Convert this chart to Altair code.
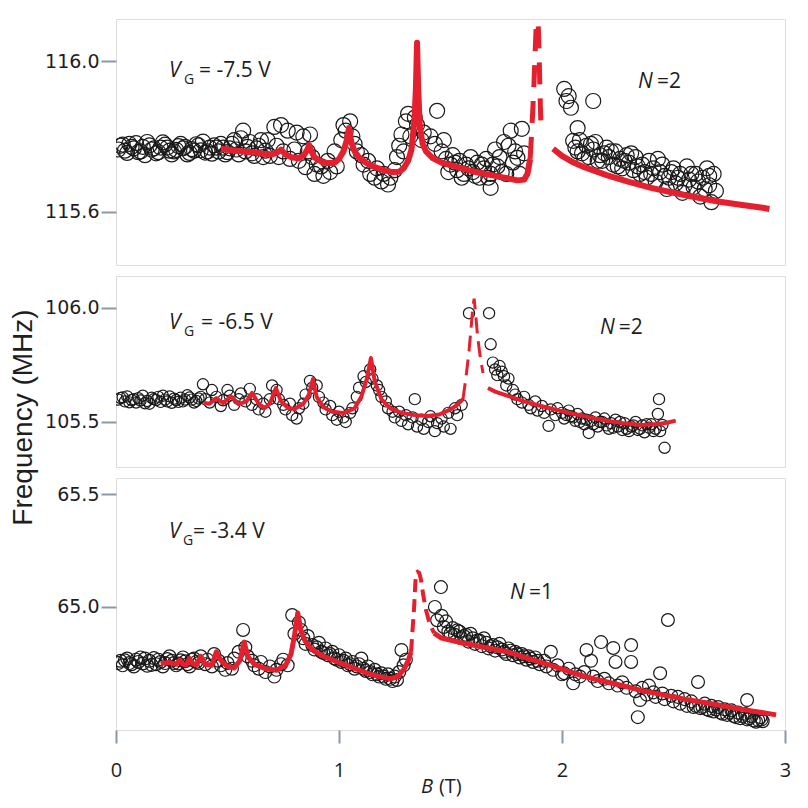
import altair as alt
import pandas as pd

# ---------------- Panel 1 (VG = -7.5 V) ----------------
p1_b = [0.02,0.04,0.06,0.08,0.10,0.12,0.14,0.16,0.18,0.20,0.22,0.24,0.26,0.28,0.30,0.32,0.34,0.36,0.38,0.40,0.42,0.44,0.46,
        0.48,0.50,0.52,0.54,0.56,0.57,0.59,0.61,0.63,0.65,0.67,0.69,
        0.71,0.72,0.73,0.74,0.75,0.77,0.78,0.80,
        0.81,0.82,0.84,0.85,0.86,0.87,0.88,0.89,0.90,
        0.92,0.93,0.95,0.96,0.98,0.99,1.01,1.02,1.03,1.05,1.06,
        1.07,1.08,1.10,1.11,1.13,1.14,1.16,1.17,1.19,1.20,1.22,1.23,1.25,
        1.26,1.27,1.28,1.29,1.30,1.31,1.32,1.34,1.35,1.37,1.38,1.44,
        1.41,1.43,1.46,1.47,1.48,1.50,1.51,1.53,1.54,1.56,1.57,1.59,1.60,1.62,1.63,1.65,1.66,1.68,1.69,1.70,1.72,1.73,1.74,1.76,1.77,1.79,1.80,1.81,1.82,1.83,1.68,
        2.01,2.03,2.02,2.04,2.14,2.07,2.05,
        2.06,2.08,2.09,2.11,2.12,2.14,2.15,2.17,2.18,2.20,2.21,2.23,2.24,2.26,2.27,2.29,2.30,2.32,2.33,2.35,2.36,2.38,2.39,2.41,2.42,2.44,2.45,2.47,2.48,2.50,2.51,2.53,2.54,2.56,2.57,2.59,2.60,2.62,2.63,2.65,2.66,2.67,2.68,2.69]
p1_f = [115.775,115.762,115.780,115.768,115.758,115.772,115.785,115.765,115.755,115.770,115.778,115.762,115.760,115.774,115.768,115.752,115.766,115.779,115.763,115.757,115.770,115.776,115.760,
        115.770,115.758,115.780,115.765,115.795,115.815,115.772,115.755,115.768,115.790,115.762,115.748,
        115.825,115.775,115.745,115.830,115.760,115.815,115.740,115.765,
        115.810,115.735,115.800,115.718,115.760,115.805,115.745,115.700,115.725,
        115.720,115.695,115.735,115.705,115.760,115.720,115.790,115.830,115.815,115.840,115.800,
        115.780,115.760,115.750,115.725,115.735,115.700,115.690,115.715,115.680,115.700,115.672,115.690,115.710,
        115.745,115.775,115.805,115.760,115.840,115.860,115.800,115.850,115.830,115.790,115.810,115.868,
        115.800,115.780,115.760,115.790,115.740,115.725,115.750,115.710,115.735,115.700,115.725,115.745,115.705,115.730,115.690,115.715,115.740,115.700,115.725,115.765,115.745,115.705,115.785,115.775,115.815,115.760,115.743,115.700,115.820,115.755,115.663,
        115.926,115.907,115.894,115.876,115.894,115.822,115.788,
        115.770,115.790,115.755,115.775,115.745,115.765,115.785,115.750,115.735,115.770,115.745,115.725,115.760,115.740,115.715,115.750,115.730,115.710,115.745,115.700,115.725,115.690,115.735,115.715,115.680,115.705,115.725,115.660,115.690,115.715,115.675,115.700,115.650,115.720,115.685,115.665,115.700,115.640,115.690,115.715,115.670,115.625,115.700,115.655]
p1_b_extra = [0.01,0.03,0.05,0.07,0.09,0.11,0.13,0.15,0.17,0.19,0.21,0.23,0.25,0.27,0.29,0.31,0.33,0.35,0.37,0.39,0.41,0.43,0.45,
              0.47,0.49,0.51,0.53,0.55,0.58,0.60,0.62,0.64,0.66,0.68,
              1.49,1.52,1.55,1.58,1.61,1.64,1.67,1.71,1.75,1.78,
              2.07,2.10,2.13,2.16,2.19,2.22,2.25,2.28,2.31,2.34,2.37,2.40,2.43,2.46,2.49,2.52,2.55,2.58,2.61,2.64,2.66]
p1_f_extra = [115.765,115.778,115.756,115.772,115.782,115.760,115.750,115.776,115.768,115.758,115.784,115.770,115.752,115.764,115.780,115.772,115.756,115.762,115.776,115.786,115.760,115.754,115.770,
              115.780,115.752,115.768,115.790,115.752,115.760,115.785,115.748,115.775,115.745,115.790,
              115.705,115.730,115.690,115.715,115.695,115.725,115.690,115.720,115.700,115.730,
              115.760,115.740,115.780,115.735,115.755,115.760,115.720,115.735,115.755,115.720,115.705,115.700,115.740,115.695,115.705,115.690,115.670,115.700,115.680,115.660,115.695]

p1_fit1_b = [0.47,0.52,0.57,0.62,0.66,0.70,0.72,0.74,0.76,0.79,0.82,0.845,0.858,0.866,0.875,0.89,0.92,0.95,0.98,1.00,1.02,1.035,1.045,1.055,1.07,1.09,1.12,1.16,1.20,1.24,1.27,1.29,1.31,1.325,1.338,1.345,1.35,1.355,1.362,1.375,1.39,1.42,1.46,1.52,1.58,1.64,1.70,1.76,1.80,1.83,1.845,1.857]
p1_fit1_f = [115.767,115.763,115.760,115.757,115.754,115.752,115.756,115.765,115.752,115.744,115.742,115.752,115.765,115.777,115.762,115.744,115.733,115.729,115.730,115.740,115.760,115.790,115.822,115.785,115.760,115.744,115.730,115.718,115.710,115.705,115.706,115.715,115.735,115.765,115.840,115.930,116.049,115.930,115.830,115.780,115.760,115.742,115.730,115.720,115.710,115.702,115.695,115.688,115.683,115.685,115.700,115.740]
p1_dash_b = [1.857,1.863,1.869,1.875,1.880,1.885,1.893,1.897,1.900,1.903,1.906]
p1_dash_f = [115.740,115.800,115.870,115.950,116.030,116.105,116.105,116.030,115.950,115.880,115.820]
p1_fit2_b = [1.96,2.00,2.05,2.10,2.20,2.30,2.40,2.50,2.60,2.70,2.80,2.90,2.93]
p1_fit2_f = [115.767,115.748,115.731,115.718,115.697,115.679,115.663,115.650,115.638,115.627,115.618,115.610,115.607]

# ---------------- Panel 2 (VG = -6.5 V) ----------------
p2_b = [0.02,0.04,0.05,0.07,0.09,0.10,0.12,0.14,0.15,0.17,0.19,0.20,0.22,0.24,0.25,0.27,0.29,0.30,0.32,0.34,0.35,0.37,
        0.39,0.40,0.42,0.43,0.45,0.47,0.48,0.50,0.51,0.53,0.55,0.56,0.58,0.60,0.61,0.63,0.64,0.66,0.67,0.69,0.70,0.72,0.73,0.75,
        0.76,0.78,0.79,0.81,0.82,0.84,0.85,0.87,0.88,0.90,0.91,0.93,0.94,0.96,0.97,0.99,1.00,1.02,1.03,1.05,
        1.06,1.08,1.09,1.11,1.12,1.14,1.15,1.17,1.18,1.19,1.21,1.22,1.24,
        1.25,1.27,1.28,1.30,1.31,1.33,1.34,1.35,1.37,1.38,1.40,1.41,1.43,1.44,1.46,1.47,1.49,1.50,1.52,1.53,1.55,
        1.583,1.673,1.68,1.69,1.70,1.71,1.72,1.73,1.74,1.75,1.76,1.78,1.79,1.80,1.82,1.83,1.85,1.86,1.88,1.89,1.91,1.92,1.94,1.95,1.97,1.98,
        2.00,2.01,2.03,2.04,2.06,2.07,2.09,2.10,2.12,2.13,2.15,2.16,2.18,2.19,2.21,2.22,2.24,2.25,2.27,2.28,2.30,2.31,2.33,2.34,2.36,2.37,2.39,2.40,2.42,2.43,2.435,2.44,2.45,2.46]
p2_f = [105.605,105.590,105.612,105.596,105.585,105.604,105.615,105.592,105.580,105.600,105.610,105.588,105.598,105.612,105.584,105.596,105.606,105.590,105.617,105.598,105.585,105.603,
        105.665,105.600,105.585,105.640,105.610,105.570,105.595,105.640,105.615,105.575,105.600,105.625,105.590,105.645,105.575,105.600,105.555,105.580,105.545,105.600,105.660,105.640,105.600,105.575,
        105.555,105.580,105.530,105.515,105.560,105.580,105.620,105.680,105.650,105.660,105.610,105.585,105.555,105.570,105.530,105.510,105.545,105.520,105.500,105.540,
        105.560,105.610,105.650,105.700,105.675,105.730,105.690,105.660,105.640,105.610,105.590,105.560,105.545,
        105.520,105.545,105.505,105.530,105.490,105.520,105.600,105.480,105.510,105.470,105.500,105.525,105.460,105.495,105.515,105.480,105.540,105.470,105.560,105.530,105.575,
        105.976,105.976,105.840,105.760,105.730,105.705,105.745,105.720,105.700,105.660,105.690,105.640,105.620,105.600,105.585,105.610,105.575,105.560,105.590,105.550,105.570,105.540,105.483,105.555,105.530,105.560,
        105.540,105.515,105.550,105.525,105.505,105.535,105.515,105.490,105.452,105.505,105.520,105.480,105.500,105.515,105.470,105.495,105.510,105.480,105.465,105.495,105.460,105.480,105.500,105.465,105.485,105.455,105.475,105.490,105.470,105.535,105.600,105.460,105.487,105.387]
p2_b_extra = [0.01,0.03,0.06,0.08,0.11,0.13,0.16,0.18,0.21,0.23,0.26,0.28,0.31,0.33,0.36,0.38,
              2.02,2.05,2.08,2.11,2.14,2.17,2.20,2.23,2.26,2.29,2.32,2.35,2.38,2.41]
p2_f_extra = [105.598,105.608,105.586,105.600,105.594,105.582,105.606,105.596,105.615,105.590,105.602,105.588,105.598,105.607,105.592,105.610,
              105.530,105.520,105.500,105.510,105.490,105.500,105.485,105.475,105.500,105.470,105.485,105.470,105.490,105.460]

p2_fit1_b = [0.395,0.42,0.45,0.48,0.515,0.55,0.585,0.61,0.64,0.665,0.69,0.717,0.74,0.77,0.80,0.84,0.865,0.883,0.90,0.93,0.97,1.02,1.07,1.10,1.125,1.143,1.16,1.19,1.23,1.28,1.34,1.40,1.45,1.50,1.53,1.556]
p2_fit1_f = [105.583,105.580,105.605,105.583,105.612,105.578,105.590,105.627,105.580,105.561,105.580,105.649,105.590,105.562,105.557,105.580,105.620,105.688,105.610,105.565,105.545,105.539,105.560,105.610,105.690,105.780,105.680,105.600,105.560,105.540,105.530,105.526,105.533,105.555,105.575,105.600]
p2_dash_b = [1.556,1.570,1.583,1.593,1.600,1.606,1.612,1.622,1.634,1.646]
p2_dash_f = [105.600,105.700,105.810,105.920,106.000,106.040,105.980,105.870,105.780,105.714]
p2_fit2_b = [1.668,1.70,1.757,1.83,1.906,1.98,2.054,2.13,2.206,2.28,2.354,2.43,2.47,2.51]
p2_fit2_f = [105.649,105.633,105.614,105.590,105.570,105.552,105.535,105.519,105.504,105.494,105.487,105.491,105.497,105.506]

# ---------------- Panel 3 (VG = -3.4 V) ----------------
p3_b = [0.02,0.03,0.05,0.06,0.08,0.09,0.11,0.12,0.14,0.15,0.17,0.18,0.20,0.21,0.23,0.24,0.26,0.27,0.29,0.30,0.32,0.33,0.35,0.36,
        0.38,0.40,0.41,0.43,0.44,0.46,0.47,0.49,0.50,0.52,0.53,0.55,0.57,0.58,0.59,0.61,0.62,0.64,0.65,0.67,0.69,0.71,0.72,0.74,0.75,0.77,
        0.79,0.80,0.82,0.83,0.84,0.85,0.86,
        0.88,0.89,0.91,0.92,0.94,0.95,0.97,0.98,1.00,1.01,1.03,1.04,1.06,1.07,1.09,1.10,1.12,1.13,1.15,1.16,1.18,1.19,1.21,1.22,1.24,1.25,1.27,1.28,1.29,1.30,
        1.43,1.44,1.457,1.46,1.47,1.48,1.49,1.51,1.52,1.54,1.55,1.57,1.58,1.60,1.61,1.63,1.64,1.66,1.67,1.69,1.70,1.72,1.73,1.75,1.76,1.78,1.79,1.81,1.82,1.84,1.85,1.87,1.88,1.90,
        1.92,1.93,1.95,1.96,1.98,2.00,2.01,2.03,2.05,2.06,2.08,2.10,2.11,2.13,2.14,2.16,2.175,2.19,2.21,2.23,2.24,2.25,2.27,2.29,2.31,2.31,2.33,2.34,2.35,2.36,2.38,2.39,
        2.41,2.42,2.44,2.45,2.46,2.475,2.49,2.50,2.52,2.53,2.55,2.56,2.58,2.59,2.61,2.62,2.64,2.65,2.67,2.68,2.70,2.71,2.73,2.74,2.76,2.77,2.79,2.80,2.82,2.83,2.83,2.85,2.86,2.88,2.89,2.90]
p3_f = [64.760,64.740,64.770,64.750,64.735,64.765,64.775,64.748,64.738,64.760,64.772,64.745,64.755,64.735,64.768,64.780,64.750,64.740,64.762,64.775,64.745,64.735,64.770,64.755,
        64.780,64.745,64.765,64.735,64.790,64.760,64.740,64.720,64.750,64.725,64.770,64.800,64.897,64.820,64.780,64.760,64.740,64.725,64.755,64.710,64.735,64.690,64.720,64.745,64.765,64.740,
        64.963,64.880,64.930,64.897,64.860,64.835,64.870,
        64.830,64.810,64.840,64.800,64.815,64.785,64.800,64.770,64.785,64.755,64.770,64.740,64.755,64.725,64.745,64.770,64.715,64.735,64.700,64.720,64.690,64.705,64.680,64.700,64.670,64.690,64.710,64.808,64.740,64.765,
        64.999,64.940,65.087,64.960,64.910,64.935,64.890,64.905,64.875,64.890,64.860,64.875,64.845,64.860,64.835,64.850,64.825,64.840,64.815,64.830,64.805,64.835,64.810,64.790,64.815,64.785,64.800,64.775,64.790,64.765,64.780,64.755,64.775,64.745,
        64.760,64.735,64.800,64.720,64.740,64.700,64.705,64.725,64.660,64.700,64.690,64.710,64.808,64.760,64.690,64.670,64.843,64.680,64.660,64.817,64.755,64.650,64.665,64.640,64.830,64.755,64.625,64.510,64.586,64.640,64.610,64.650,
        64.620,64.600,64.705,64.615,64.590,64.941,64.605,64.580,64.600,64.570,64.590,64.560,64.580,64.555,64.666,64.550,64.570,64.545,64.560,64.535,64.555,64.530,64.545,64.520,64.540,64.515,64.530,64.505,64.525,64.500,64.586,64.515,64.495,64.497,64.510,64.492]
p3_b_extra = [0.01,0.04,0.07,0.10,0.13,0.16,0.19,0.22,0.25,0.28,0.31,0.34,0.37,
              0.90,0.93,0.96,0.99,1.02,1.05,1.08,1.11,1.14,1.17,1.20,1.23,1.26,
              1.50,1.53,1.56,1.59,1.62,1.65,1.68,1.71,1.74,1.77,1.80,1.83,1.86,1.89,
              2.60,2.63,2.66,2.69,2.72,2.75,2.78,2.81,2.84,2.87,2.895]
p3_f_extra = [64.750,64.762,64.745,64.755,64.770,64.742,64.765,64.750,64.760,64.748,64.758,64.765,64.750,
              64.820,64.795,64.790,64.765,64.760,64.745,64.735,64.725,64.710,64.700,64.690,64.680,64.675,
              64.880,64.895,64.870,64.880,64.850,64.860,64.825,64.820,64.800,64.805,64.790,64.780,64.770,64.760,
              64.560,64.555,64.540,64.545,64.525,64.530,64.510,64.515,64.505,64.490,64.500]

p3_fit1_b = [0.20,0.24,0.27,0.285,0.30,0.315,0.33,0.345,0.36,0.38,0.40,0.43,0.45,0.47,0.50,0.53,0.555,0.575,0.59,0.62,0.67,0.72,0.76,0.785,0.80,0.815,0.83,0.85,0.88,0.93,0.98,1.05,1.12,1.18,1.23,1.26,1.29,1.31,1.323]
p3_fit1_f = [64.748,64.752,64.745,64.762,64.745,64.742,64.770,64.746,64.742,64.780,64.745,64.740,64.800,64.762,64.735,64.728,64.760,64.843,64.780,64.745,64.725,64.718,64.740,64.790,64.870,64.972,64.890,64.845,64.810,64.780,64.760,64.733,64.708,64.690,64.680,64.688,64.720,64.760,64.799]
p3_dash_b = [1.323,1.330,1.337,1.342,1.346,1.352,1.360,1.368,1.378,1.390,1.405,1.426]
p3_dash_f = [64.799,64.900,65.000,65.100,65.150,65.155,65.150,65.118,65.050,64.985,64.930,64.883]
p3_fit2_b = [1.426,1.46,1.55,1.65,1.76,1.85,1.95,2.05,2.15,2.25,2.35,2.45,2.55,2.65,2.75,2.85,2.96]
p3_fit2_f = [64.883,64.861,64.840,64.820,64.799,64.770,64.740,64.706,64.678,64.655,64.630,64.610,64.590,64.573,64.555,64.538,64.520]

# ---------------- axes / labels ----------------
x_ticks = [0, 1, 2, 3]
y_domains = [[115.458, 116.112], [105.303, 106.139], [64.453, 65.571]]
y_ticks = [[115.6, 116.0], [105.5, 106.0], [65.0, 65.5]]
vg_texts = ["= -7.5 V", "= -6.5 V", "= -3.4 V"]
n_texts = ["=2", "=2", "=1"]
# annotation anchor positions (B, MHz): V, G, rest, N, =n
ann_pos = [
    [(0.238, 115.958), (0.305, 115.940), (0.372, 115.958), (2.341, 115.929), (2.426, 115.929)],
    [(0.238, 105.907), (0.305, 105.876), (0.381, 105.907), (2.170, 105.885), (2.255, 105.885)],
    [(0.238, 65.305), (0.300, 65.274), (0.345, 65.305), (1.767, 65.034), (1.852, 65.034)],
]

RED = "#e5202e"
AXC = "#8a99a8"
TXT = "#1e1e1e"
FONT = "Open Sans"

panels = [
    dict(b=p1_b + p1_b_extra, f=p1_f + p1_f_extra, fits=[(p1_fit1_b, p1_fit1_f), (p1_fit2_b, p1_fit2_f)],
         dash=(p1_dash_b, p1_dash_f), h=246, size=225, lw=6, dasharr=[22, 14]),
    dict(b=p2_b + p2_b_extra, f=p2_f + p2_f_extra, fits=[(p2_fit1_b, p2_fit1_f), (p2_fit2_b, p2_fit2_f)],
         dash=(p2_dash_b, p2_dash_f), h=191, size=125, lw=4, dasharr=[16, 8]),
    dict(b=p3_b + p3_b_extra, f=p3_f + p3_f_extra, fits=[(p3_fit1_b, p3_fit1_f), (p3_fit2_b, p3_fit2_f)],
         dash=(p3_dash_b, p3_dash_f), h=252, size=165, lw=5, dasharr=[13, 7]),
]

charts = []
for i, p in enumerate(panels):
    xsc = alt.Scale(domain=[0, 3], nice=False, zero=False)
    ysc = alt.Scale(domain=y_domains[i], nice=False, zero=False)
    if i == 2:
        xax = alt.Axis(values=x_ticks, format="d", labelFont=FONT, labelFontSize=20, labelColor=TXT,
                       tickSize=13, tickWidth=2, tickColor=AXC, domain=False, grid=False, title=None,
                       labelPadding=17, labelFlush=False)
    else:
        xax = None
    yax_kwargs = dict(values=y_ticks[i], format=".1f", labelFont="DejaVu Sans", labelFontSize=19,
                      labelColor=TXT, tickSize=15, tickWidth=2, tickColor=AXC, domain=False, grid=False,
                      labelPadding=2)
    if i == 1:
        yax = alt.Axis(title="Frequency (MHz)", titleFont="Liberation Sans Narrow, Liberation Sans",
                       titleFontSize=28, titleFontWeight="normal", titleColor=TXT, titleX=-93, titleY=141,
                       titleAngle=-90, titleAlign="center", titleBaseline="middle", **yax_kwargs)
    else:
        yax = alt.Axis(title=None, **yax_kwargs)

    pts = pd.DataFrame({"B": p["b"], "F": p["f"]})
    layers = [alt.Chart(pts).mark_point(shape="circle", filled=False, stroke="#1a1a1a", strokeWidth=1.2,
                                         size=p["size"], opacity=1, clip=True).encode(
        x=alt.X("B:Q", scale=xsc, axis=xax), y=alt.Y("F:Q", scale=ysc, axis=yax))]
    for (fb, ff) in p["fits"]:
        df = pd.DataFrame({"B": fb, "F": ff})
        layers.append(alt.Chart(df).mark_line(color=RED, strokeWidth=p["lw"], clip=True, strokeJoin="round").encode(
            x="B:Q", y="F:Q"))
    db, dfv = p["dash"]
    dd = pd.DataFrame({"B": db, "F": dfv})
    layers.append(alt.Chart(dd).mark_line(color=RED, strokeWidth=p["lw"] - 1, strokeDash=p["dasharr"],
                                          clip=True, strokeCap="butt").encode(x="B:Q", y="F:Q"))
    pos = ann_pos[i]
    ann = [("V", pos[0], "italic", 21), ("G", pos[1], "normal", 14), (vg_texts[i], pos[2], "normal", 21),
           ("N", pos[3], "italic", 21), (n_texts[i], pos[4], "normal", 21)]
    for txt, (ab, af), style, fs in ann:
        adf = pd.DataFrame({"B": [ab], "F": [af], "t": [txt]})
        layers.append(alt.Chart(adf).mark_text(font=FONT, fontSize=fs, fontStyle=style, color=TXT,
                                               align="left", baseline="alphabetic").encode(
            x="B:Q", y="F:Q", text="t:N"))
    if i == 2:
        # x-axis title "B (T)" placed below the axis
        for txt, ab, style in [("B", 1.368, "italic"), ("(T)", 1.448, "normal")]:
            adf = pd.DataFrame({"B": [ab], "F": [64.200], "t": [txt]})
            layers.append(alt.Chart(adf).mark_text(font=FONT, fontSize=20, fontStyle=style, color=TXT,
                                                   align="left", baseline="middle").encode(
                x="B:Q", y="F:Q", text="t:N"))
    charts.append(alt.layer(*layers).properties(width=669, height=p["h"]))

chart = alt.vconcat(*charts, spacing=11, bounds="flush").properties(
    padding={"left": 0, "top": 10, "right": 5, "bottom": 5}
).configure_view(stroke=AXC, strokeWidth=2).configure(background="white")

chart.save("out.html", embed_options={"renderer": "svg", "actions": False})
